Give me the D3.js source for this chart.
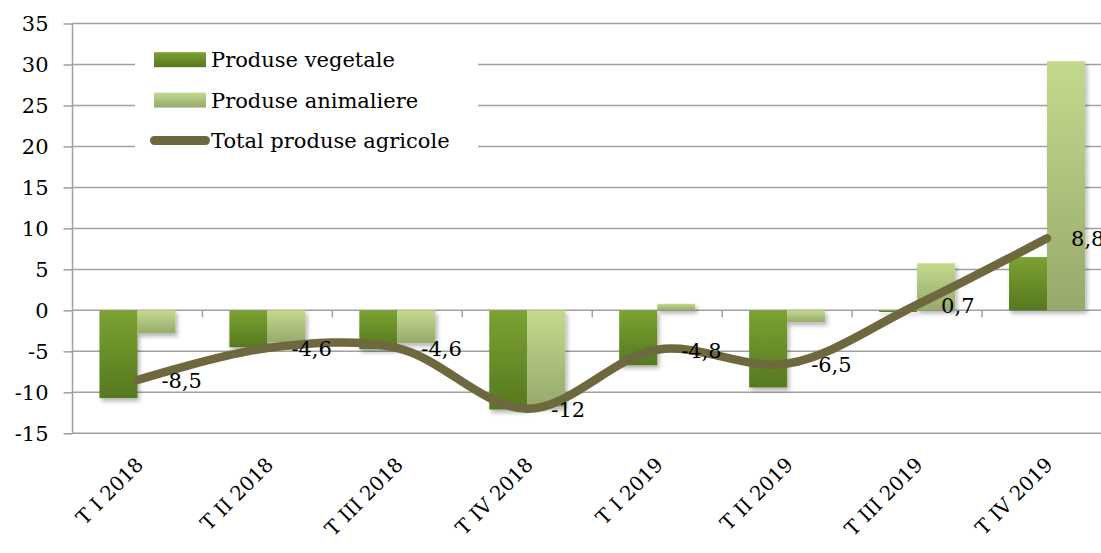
<!DOCTYPE html>
<html>
<head>
<meta charset="utf-8">
<script src="https://cdn.jsdelivr.net/npm/d3@7"></script>
<style>
  body { margin: 0; background: #fff; }
  svg { display: block; font-family: "DejaVu Serif", serif; }
  .axis path { display: none; }
  .axis line { stroke: #a0a0a0; stroke-width: 1.5; }
  .axis text { font-size: 21px; fill: #000; font-family: "DejaVu Serif", serif; }
</style>
</head>
<body>
<div id="chart"></div>
<script>
// quarters and values (% change)
var quarters = ["T I 2018", "T II 2018", "T III 2018", "T IV 2018",
                "T I 2019", "T II 2019", "T III 2019", "T IV 2019"];
var vegetale   = [-10.7, -4.5, -4.75, -12.1, -6.7, -9.4, -0.2, 6.5];
var animaliere = [-2.8, -3.9, -4.0, -11.8, 0.8, -1.45, 5.75, 30.4];
var total      = [-8.5, -4.6, -4.6, -12, -4.8, -6.5, 0.7, 8.8];
var totalLabels = ["-8,5", "-4,6", "-4,6", "-12", "-4,8", "-6,5", "0,7", "8,8"];
var yTicks = [-15, -10, -5, 0, 5, 10, 15, 20, 25, 30, 35];

var svgWidth = 1101;
var svgHeight = 553;

var plot = { left: 72.5, right: 1112, top: 23.5, bottom: 433.3 };

var svg = d3.select("#chart")
    .append("svg")
    .attr("width", svgWidth)
    .attr("height", svgHeight);

var defs = svg.append("defs");

// bar gradients (top lighter, bottom darker)
var g1 = defs.append("linearGradient").attr("id", "gVeg")
    .attr("x1", 0).attr("y1", 0).attr("x2", 0).attr("y2", 1);
g1.append("stop").attr("offset", "0%").attr("stop-color", "#7ba232");
g1.append("stop").attr("offset", "100%").attr("stop-color", "#56781f");

var g2 = defs.append("linearGradient").attr("id", "gAnim")
    .attr("x1", 0).attr("y1", 0).attr("x2", 0).attr("y2", 1);
g2.append("stop").attr("offset", "0%").attr("stop-color", "#c3da8d");
g2.append("stop").attr("offset", "100%").attr("stop-color", "#97a96c");

var shadow = defs.append("filter").attr("id", "shadow")
    .attr("x", "-20%").attr("y", "-20%").attr("width", "150%").attr("height", "150%");
shadow.append("feDropShadow")
    .attr("dx", 2).attr("dy", 3).attr("stdDeviation", 2)
    .attr("flood-color", "#000").attr("flood-opacity", 0.3);

// scales
var xScale = d3.scaleBand()
    .domain(quarters)
    .range([plot.left, plot.right])
    .paddingInner(0).paddingOuter(0);

var xInner = d3.scaleBand()
    .domain(["veg", "anim"])
    .range([0, xScale.bandwidth()])
    .paddingInner(0).paddingOuter(0.71);

var yScale = d3.scaleLinear()
    .domain([-15, 35])
    .range([plot.bottom, plot.top]);

// gridlines
svg.append("g")
    .selectAll("line")
    .data(yTicks)
    .enter()
    .append("line")
    .attr("x1", plot.left)
    .attr("x2", plot.right)
    .attr("y1", d => yScale(d))
    .attr("y2", d => yScale(d))
    .attr("stroke", "#a0a0a0")
    .attr("stroke-width", 1.5);

// y axis (plain hyphen for negatives, like the original)
var leftAxis = d3.axisLeft(yScale)
    .tickValues(yTicks)
    .tickFormat(d => String(d))
    .tickSize(9)
    .tickPadding(15);
svg.append("g")
    .attr("class", "axis")
    .attr("transform", `translate(${plot.left}, 0)`)
    .call(leftAxis);

svg.append("line")
    .attr("x1", plot.left).attr("x2", plot.left)
    .attr("y1", plot.top).attr("y2", plot.bottom)
    .attr("stroke", "#a0a0a0").attr("stroke-width", 1.5);

// x axis ticks at band boundaries, on the zero line
svg.append("g")
    .selectAll("line")
    .data(quarters.slice(1))
    .enter()
    .append("line")
    .attr("x1", d => xScale(d))
    .attr("x2", d => xScale(d))
    .attr("y1", yScale(0))
    .attr("y2", yScale(0) + 7)
    .attr("stroke", "#a0a0a0")
    .attr("stroke-width", 1.5);

// bars
var rows = quarters.map((q, i) => ({ q: q, veg: vegetale[i], anim: animaliere[i] }));

var barGroup = svg.append("g").attr("filter", "url(#shadow)");

["veg", "anim"].forEach(function(key) {
    barGroup.selectAll(".bar-" + key)
        .data(rows)
        .enter()
        .append("rect")
        .attr("class", "bar-" + key)
        .attr("x", d => xScale(d.q) + xInner(key))
        .attr("width", xInner.bandwidth())
        .attr("y", d => yScale(Math.max(0, d[key])))
        .attr("height", d => Math.abs(yScale(d[key]) - yScale(0)))
        .attr("fill", key == "veg" ? "url(#gVeg)" : "url(#gAnim)");
});

// total line (smoothed)
var cx = q => xScale(q) + xScale.bandwidth() / 2;

var line = d3.line()
    .x((d, i) => cx(quarters[i]))
    .y(d => yScale(d))
    .curve(d3.curveCatmullRom.alpha(0.5));

svg.append("path")
    .datum(total)
    .attr("d", line)
    .attr("fill", "none")
    .attr("stroke", "#6e683e")
    .attr("stroke-width", 8.5)
    .attr("stroke-linecap", "round")
    .attr("stroke-linejoin", "round");

// data labels
svg.append("g")
    .selectAll("text")
    .data(total)
    .enter()
    .append("text")
    .attr("x", (d, i) => cx(quarters[i]) + 24)
    .attr("y", d => yScale(d) + 8)
    .attr("font-size", "21px")
    .attr("fill", "#000")
    .text((d, i) => totalLabels[i]);

// category labels
svg.append("g")
    .selectAll("text")
    .data(quarters)
    .enter()
    .append("text")
    .attr("transform", d => `translate(${cx(d) + 7}, 466) rotate(-45)`)
    .attr("text-anchor", "end")
    .attr("font-size", "20px")
    .attr("fill", "#000")
    .text(d => d);

// legend
var legend = svg.append("g");
legend.append("rect")
    .attr("x", 135).attr("y", 40)
    .attr("width", 343).attr("height", 122)
    .attr("fill", "#fff");

var legendItems = [
    { name: "Produse vegetale", type: "bar", fill: "url(#gVeg)" },
    { name: "Produse animaliere", type: "bar", fill: "url(#gAnim)" },
    { name: "Total produse agricole", type: "line", fill: "#6e683e" }
];

legendItems.forEach(function(item, i) {
    var cy = 59.7 + i * 40.4;
    if (item.type == "bar") {
        legend.append("rect")
            .attr("x", 154).attr("y", cy - 7.5)
            .attr("width", 52).attr("height", 15)
            .attr("fill", item.fill);
    } else {
        legend.append("line")
            .attr("x1", 154.5).attr("x2", 205.5)
            .attr("y1", cy).attr("y2", cy)
            .attr("stroke", item.fill)
            .attr("stroke-width", 9)
            .attr("stroke-linecap", "round");
    }
    legend.append("text")
        .attr("x", 211)
        .attr("y", cy + 7.5)
        .attr("font-size", "21px")
        .attr("fill", "#000")
        .text(item.name);
});
</script>
</body>
</html>
